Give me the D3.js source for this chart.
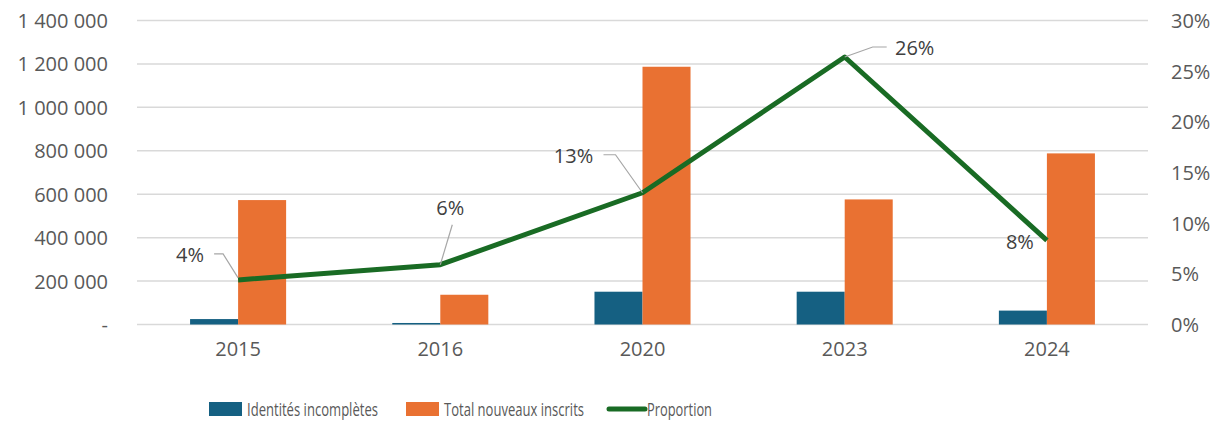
<!DOCTYPE html>
<html>
<head>
<meta charset="utf-8">
<script src="https://cdn.jsdelivr.net/npm/d3@7"></script>
<style>
  body { margin: 0; background: #fff; }
  svg text { font-family: "Open Sans", sans-serif; }
</style>
</head>
<body>
<svg id="chart" width="1217" height="421"></svg>
<script>
// values
const years = ["2015", "2016", "2020", "2023", "2024"];
const incompletes = [25000, 7000, 151000, 151000, 64000];
const totals = [573000, 137000, 1187000, 576000, 788000];
const proportion = [0.044, 0.059, 0.13, 0.264, 0.083];
const leftTicks = [0, 200000, 400000, 600000, 800000, 1000000, 1200000, 1400000];
const rightTicks = [0, 0.05, 0.1, 0.15, 0.2, 0.25, 0.3];
const seriesNames = ["Identités incomplètes", "Total nouveaux inscrits", "Proportion"];

const colors = { blue: "#156082", orange: "#E97132", green: "#196B24" };

let svg = d3.select("#chart");
let plotLeft = 137, plotRight = 1148, plotTop = 20.5, plotBottom = 324.5;

let fr = d3.formatLocale({ decimal: ",", thousands: " ", grouping: [3], currency: ["", " €"] });
let fmtNum = fr.format(",d");

let x = d3.scaleBand().domain(years).range([plotLeft, plotRight]).paddingInner(0.525).paddingOuter(0.2625);
let xc = d => x(d) + x.bandwidth() / 2;
let yL = d3.scaleLinear().domain([0, 1400000]).range([plotBottom, plotTop]);
let yR = d3.scaleLinear().domain([0, 0.3]).range([plotBottom, plotTop]);

// gridlines
svg.append("g").selectAll("line").data(leftTicks).join("line")
  .attr("x1", plotLeft).attr("x2", plotRight)
  .attr("y1", d => yL(d)).attr("y2", d => yL(d))
  .attr("stroke", "#d9d9d9").attr("stroke-width", 1.5);

// left axis
let axL = svg.append("g").attr("transform", `translate(${plotLeft},0)`)
  .call(d3.axisLeft(yL).tickValues(leftTicks).tickSize(0).tickPadding(29)
    .tickFormat(d => d === 0 ? "-" : fmtNum(d)));
axL.select(".domain").remove();
axL.selectAll("text").attr("fill", "#595959").style("font-size", "20px").attr("dy", "0.35em");

// right axis
let axR = svg.append("g").attr("transform", `translate(${plotRight},0)`)
  .call(d3.axisRight(yR).tickValues(rightTicks).tickSize(0).tickPadding(23)
    .tickFormat(d3.format(".0%")));
axR.select(".domain").remove();
axR.selectAll("text").attr("fill", "#595959").style("font-size", "20px").attr("dy", "0.35em");

// bottom axis
let axB = svg.append("g").attr("transform", `translate(0,${plotBottom})`)
  .call(d3.axisBottom(x).tickSize(0).tickPadding(17));
axB.select(".domain").remove();
axB.selectAll("text").attr("fill", "#595959").style("font-size", "20px");

// bars
let bw = x.bandwidth() / 2;
svg.append("g").selectAll("rect").data(years).join("rect")
  .attr("x", d => x(d))
  .attr("y", (d, i) => yL(incompletes[i]))
  .attr("width", bw)
  .attr("height", (d, i) => plotBottom - yL(incompletes[i]))
  .attr("fill", colors.blue);

svg.append("g").selectAll("rect").data(years).join("rect")
  .attr("x", d => x(d) + bw)
  .attr("y", (d, i) => yL(totals[i]))
  .attr("width", bw)
  .attr("height", (d, i) => plotBottom - yL(totals[i]))
  .attr("fill", colors.orange);

// proportion line
let line = d3.line().x((d, i) => xc(years[i])).y(d => yR(d));
svg.append("path").datum(proportion)
  .attr("d", line)
  .attr("fill", "none")
  .attr("stroke", colors.green)
  .attr("stroke-width", 5)
  .attr("stroke-linejoin", "round");

// data labels with leader lines (offsets from the point)
let labelPos = [
  { dx: -48, dy: -18, leader: [[-24, -26], [-15, -26], [0, -2]] },
  { dx: 10, dy: -50, leader: [[12, -40], [0, 0]] },
  { dx: -69, dy: -30, leader: [[-39, -38], [-27, -38], [0, 0]] },
  { dx: 70, dy: -2, leader: [[0, 0], [28, -10], [42, -10]] },
  { dx: -27, dy: 9, leader: null }
];

proportion.forEach((p, i) => {
  let px = xc(years[i]), py = yR(p), o = labelPos[i];
  if (o.leader) {
    svg.append("path")
      .attr("d", d3.line()(o.leader.map(q => [px + q[0], py + q[1]])))
      .attr("fill", "none").attr("stroke", "#a6a6a6").attr("stroke-width", 1.2);
  }
  svg.append("text")
    .attr("x", px + o.dx).attr("y", py + o.dy)
    .attr("text-anchor", "middle")
    .attr("fill", "#404040")
    .style("font-size", "20px")
    .text(d3.format(".0%")(p));
});

// legend (reference font is narrow, so squeeze the text)
let legend = svg.append("g");
let lx = [209, 406, 609];
let textW = [131, 140, 65];
seriesNames.forEach((name, i) => {
  if (i < 2) {
    legend.append("rect").attr("x", lx[i]).attr("y", 402).attr("width", 33).attr("height", 14)
      .attr("fill", i === 0 ? colors.blue : colors.orange);
  } else {
    legend.append("line").attr("x1", lx[i]).attr("x2", lx[i] + 36).attr("y1", 409).attr("y2", 409)
      .attr("stroke", colors.green).attr("stroke-width", 5).attr("stroke-linecap", "round");
  }
  legend.append("text")
    .attr("x", lx[i] + (i < 2 ? 38 : 38)).attr("y", 416)
    .attr("fill", "#595959").style("font-size", "19px")
    .attr("textLength", textW[i]).attr("lengthAdjust", "spacingAndGlyphs")
    .text(name);
});
</script>
</body>
</html>
